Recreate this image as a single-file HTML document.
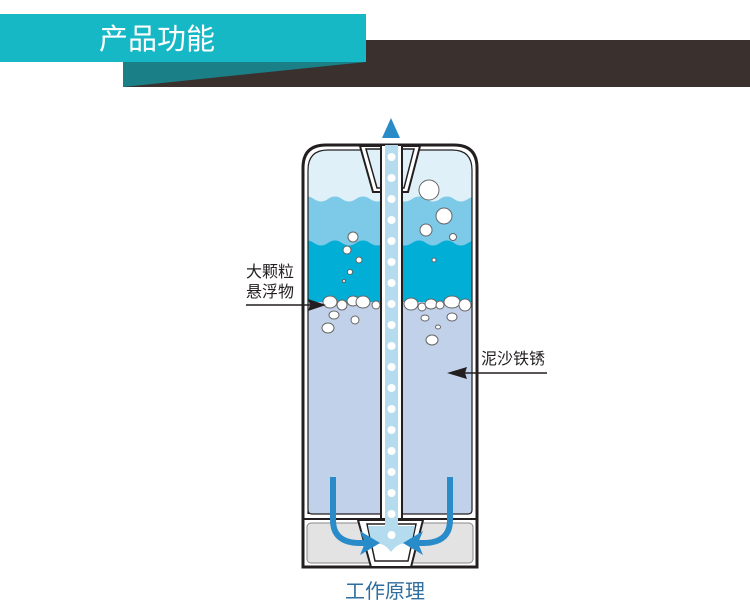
<!DOCTYPE html>
<html><head><meta charset="utf-8"><style>
html,body{margin:0;padding:0;background:#fff;}
svg{display:block;}
text{font-family:"Liberation Sans","Noto Sans CJK SC",sans-serif;}
</style></head><body>
<svg width="750" height="614" viewBox="0 0 750 614" xmlns="http://www.w3.org/2000/svg">
<rect x="123" y="40" width="627" height="47" fill="#3a302d"/>
<polygon points="123,62 366,62 123,87" fill="#1a7f86"/>
<rect x="0" y="14" width="366" height="48" fill="#17b8c6"/>
<text x="99" y="49" font-size="29" fill="#fff">产品功能</text>

<path d="M303,567 L303,168 Q303,145 326,145 L454,145 Q477,145 477,168 L477,567 Z" fill="#fff" stroke="#231f20" stroke-width="3"/>
<defs>
<clipPath id="up"><path d="M308,514 L308,170 Q308,150 328,150 L452,150 Q472,150 472,170 L472,510 Q472,514 468,514 Z"/></clipPath>
</defs>
<g clip-path="url(#up)">
<rect x="300" y="145" width="180" height="380" fill="#dff0f9"/>
<path d="M300,199 q7,-5 14,0 t14,0 t14,0 t14,0 t14,0 t14,0 t14,0 t14,0 t14,0 t14,0 t14,0 t14,0 t14,0 L480,300 L300,300 Z" fill="#7cc9e8"/>
<path d="M300,243 q7,-5 14,0 t14,0 t14,0 t14,0 t14,0 t14,0 t14,0 t14,0 t14,0 t14,0 t14,0 t14,0 t14,0 L480,305 L300,305 Z" fill="#00aed6"/>
<rect x="300" y="302" width="180" height="220" fill="#c1d1ea"/>
<g fill="#fff" stroke="#666" stroke-width="1">
<circle cx="429" cy="190" r="10"/><circle cx="444" cy="216" r="8"/><circle cx="426" cy="230" r="6"/><circle cx="453" cy="237" r="3.5"/>
<circle cx="353" cy="237" r="5"/><circle cx="347" cy="250" r="4"/><circle cx="359" cy="260" r="3"/><circle cx="350" cy="272" r="2.5"/><circle cx="344" cy="281" r="1.5"/><circle cx="434" cy="260" r="2"/>
<ellipse cx="330" cy="302" rx="7" ry="6"/><ellipse cx="342" cy="305" rx="5" ry="5"/><ellipse cx="353" cy="301" rx="6" ry="5"/><ellipse cx="363" cy="302" rx="7" ry="6"/><ellipse cx="376" cy="305" rx="4" ry="4"/>
<ellipse cx="334" cy="315" rx="5" ry="4"/><ellipse cx="355" cy="320" rx="4" ry="4"/><ellipse cx="328" cy="328" rx="6" ry="5"/>
<ellipse cx="411" cy="304" rx="7" ry="6"/><ellipse cx="422" cy="307" rx="4" ry="4"/><ellipse cx="431" cy="304" rx="6" ry="5"/><ellipse cx="440" cy="305" rx="4" ry="4"/><ellipse cx="452" cy="302" rx="8" ry="6"/><ellipse cx="465" cy="305" rx="6" ry="6"/>
<ellipse cx="425" cy="318" rx="4" ry="3"/><ellipse cx="452" cy="317" rx="5" ry="4"/><ellipse cx="438" cy="327" rx="2.5" ry="2"/><ellipse cx="432" cy="340" rx="6" ry="5"/>
</g>
</g>
<path d="M308,514 L308,170 Q308,150 328,150 L452,150 Q472,150 472,170 L472,510 Q472,514 468,514 L312,514 Q308,514 308,510 Z" fill="none" stroke="#231f20" stroke-width="1.2"/>
<polygon points="360,146 420,146 408,192 373,192" fill="#fff" stroke="#231f20" stroke-width="2"/>
<polygon points="366,149 414,149 404,188 377,188" fill="#dff0f9" stroke="#231f20" stroke-width="1.5"/>
<line x1="303" y1="519" x2="477" y2="519" stroke="#231f20" stroke-width="2"/>
<rect x="307" y="523" width="166" height="40" rx="4" fill="#e3e3e3" stroke="#888" stroke-width="1"/>
<polygon points="358,520 423,520 411,567 371,567" fill="#fff" stroke="#231f20" stroke-width="2"/>
<polygon points="367,524 416,524 408,561 375,561" fill="#fff" stroke="#231f20" stroke-width="1.5"/>
<path d="M368,526 L415,526 L411,545 Q400,540 391,552 Q382,540 372,545 Z" fill="#b5dcee"/>
<rect x="381" y="145" width="21" height="374" fill="#fff" stroke="#231f20" stroke-width="2"/>
<rect x="385" y="145" width="13" height="382" fill="#b5dcee"/>
<g fill="#fff">
<circle cx="391.5" cy="157" r="4"/><circle cx="391.5" cy="178" r="4"/><circle cx="391.5" cy="199" r="4"/><circle cx="391.5" cy="220" r="4"/><circle cx="391.5" cy="241" r="4"/><circle cx="391.5" cy="262" r="4"/><circle cx="391.5" cy="283" r="4"/><circle cx="391.5" cy="304" r="4"/><circle cx="391.5" cy="325" r="4"/><circle cx="391.5" cy="346" r="4"/><circle cx="391.5" cy="367" r="4"/><circle cx="391.5" cy="388" r="4"/><circle cx="391.5" cy="409" r="4"/><circle cx="391.5" cy="430" r="4"/><circle cx="391.5" cy="451" r="4"/><circle cx="391.5" cy="472" r="4"/><circle cx="391.5" cy="493" r="4"/><circle cx="391.5" cy="514" r="4"/><circle cx="391.5" cy="535" r="4"/>
</g>
<polygon points="391,118 400,138 382,138" fill="#2a8bc9"/>
<g fill="none" stroke="#2a8bc9" stroke-width="6">
<path d="M333,477 L333,520 Q333,543 360,543 L366,543"/>
<path d="M450,477 L450,520 Q450,543 423,543 L416,543"/>
</g>
<polygon points="380,543 360,531 365,543 360,555" fill="#2a8bc9"/>
<polygon points="403,543 423,531 418,543 423,555" fill="#2a8bc9"/>
<text x="246" y="277" font-size="16" fill="#231f20">大颗粒</text>
<text x="246" y="297" font-size="16" fill="#231f20">悬浮物</text>
<line x1="246" y1="305" x2="312" y2="305" stroke="#231f20" stroke-width="1.5"/>
<polygon points="326,305 308,299 310,305 308,311" fill="#231f20"/>
<text x="481" y="364" font-size="16" fill="#231f20">泥沙铁锈</text>
<line x1="460" y1="373" x2="547" y2="373" stroke="#231f20" stroke-width="1.5"/>
<polygon points="447,373 467,367 465,373 467,379" fill="#231f20"/>
<text x="385" y="598" font-size="20" fill="#2f6e9e" text-anchor="middle">工作原理</text>
</svg>
</body></html>
